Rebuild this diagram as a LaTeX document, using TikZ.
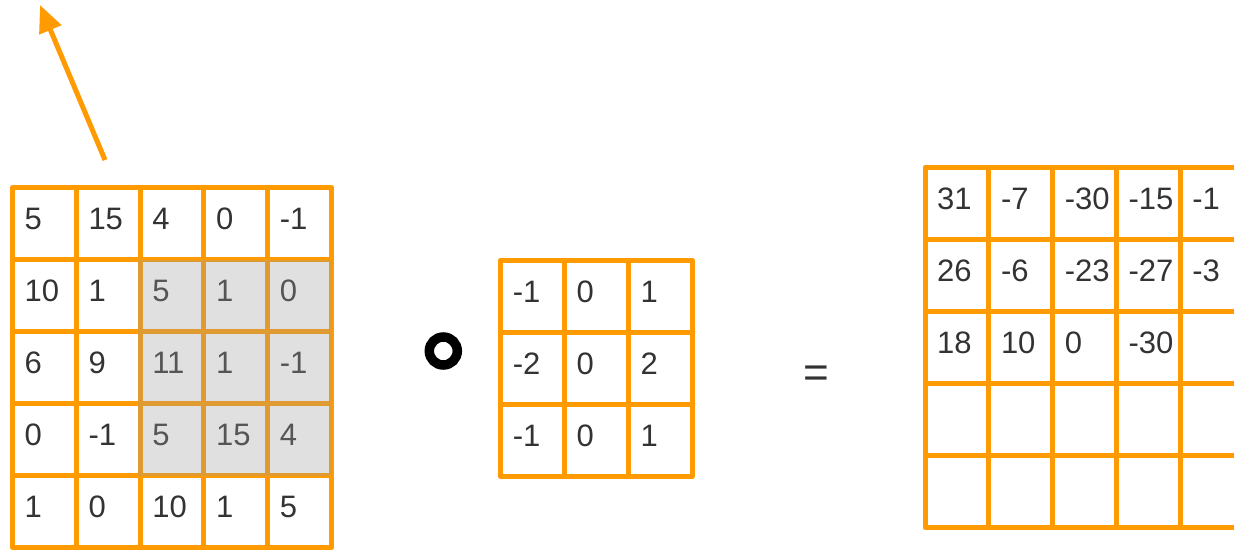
\documentclass[tikz,border=0pt]{standalone}
\usepackage{fontspec}
\setmainfont{Liberation Sans}
\usepackage{tikz}
\usepackage{xcolor}
\usetikzlibrary{arrows.meta}

\definecolor{gridorange}{HTML}{FF9A00}
\definecolor{numgray}{HTML}{333333}

\begin{document}
\begin{tikzpicture}[x=1pt, y=-1pt,
  cell/.style={rectangle, draw=gridorange, line width=5pt, line join=round, minimum width=63.8pt, minimum height=72pt, inner sep=0pt, outer sep=0pt, anchor=north west},
  num/.style={anchor=base west, inner sep=0pt, text=numgray, font=\fontsize{31}{36}\selectfont}]
\useasboundingbox (0,0) rectangle (1234,550);
\clip (0,0) rectangle (1234,550);

% input matrix
\foreach \row [count=\r] in {{5,15,4,0,-1},{10,1,5,1,0},{6,9,11,1,-1},{0,-1,5,15,4},{1,0,10,1,5}} {
  \foreach \v [count=\c] in \row {
    \node[cell] (in-\r-\c) at ({12.5+63.8*(\c-1)},{187.5+72*(\r-1)}) {};
    \node[num] (in-\r-\c-v) at ([xshift=12pt,yshift=-42pt]in-\r-\c.north west) {\v};
  }
}
% window under the kernel
\fill[black!38, fill opacity=0.32] ([xshift=-2.5pt]in-2-3.north west) rectangle (in-4-5.south east);

% kernel
\foreach \row [count=\r] in {{-1,0,1},{-2,0,2},{-1,0,1}} {
  \foreach \v [count=\c] in \row {
    \node[cell] (k-\r-\c) at ({500.7+63.8*(\c-1)},{260+72.2*(\r-1)}) {};
    \node[num] (k-\r-\c-v) at ([xshift=12pt,yshift=-42pt]k-\r-\c.north west) {\v};
  }
}

% result
\foreach \row [count=\r] in {{31,-7,-30,-15,-1},{26,-6,-23,-27,-3},{18,10,0,-30,{}},{{},{},{},{},{}},{{},{},{},{},{}}} {
  \foreach \v [count=\c] in \row {
    \node[cell] (out-\r-\c) at ({925+63.8*(\c-1)},{167.5+72*(\r-1)}) {};
    \node[num] (out-\r-\c-v) at ([xshift=12pt,yshift=-42pt]out-\r-\c.north west) {\v};
  }
}

\node[circle, draw=black, line width=9.5pt, minimum size=28pt, inner sep=0pt] (conv) at (443.3,351) {};
\node[text=numgray, font=\fontsize{44}{44}\selectfont] (eq) at (816,377) {=};

\coordinate (arr-tail) at (105,160);
\coordinate (arr-tip) at (40,5);
\draw[gridorange, line width=5pt, -{Triangle[length=27pt, width=23pt]}] (arr-tail) -- (arr-tip);
\end{tikzpicture}
\end{document}
